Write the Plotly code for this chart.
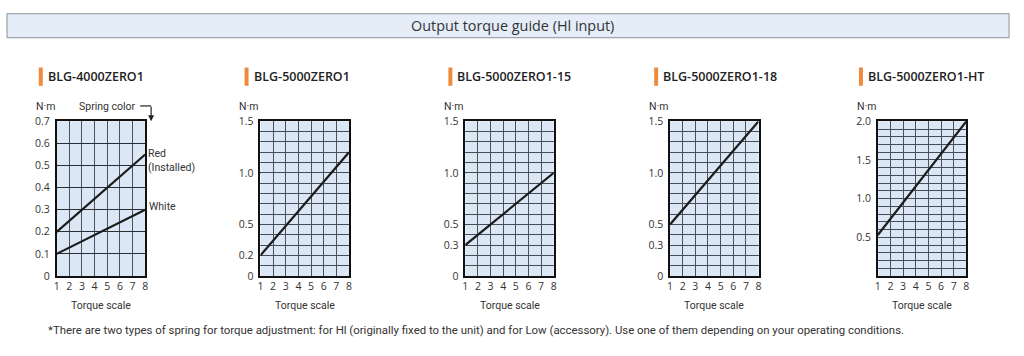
import plotly.graph_objects as go

W, H = 1024, 356

# ---- data ----
torque_scale = [1, 8]
models = ["BLG-4000ZERO1", "BLG-5000ZERO1", "BLG-5000ZERO1-15", "BLG-5000ZERO1-18", "BLG-5000ZERO1-HT"]
red_installed = [0.2, 0.55]
white_spring = [0.1, 0.3]
blg5000 = [0.2, 1.2]
blg5000_15 = [0.3, 1.0]
blg5000_18 = [0.5, 1.5]
blg5000_ht = [0.53, 2.0]
y_max = [0.7, 1.5, 1.5, 1.5, 2.0]
y_ticks = [
    [0, 0.1, 0.2, 0.3, 0.4, 0.5, 0.6, 0.7],
    [0, 0.2, 0.5, 1.0, 1.5],
    [0, 0.3, 0.5, 1.0, 1.5],
    [0, 0.3, 0.5, 1.0, 1.5],
    [0.5, 1.0, 1.5, 2.0],
]
y_tick_text = [
    ["0", "0.1", "0.2", "0.3", "0.4", "0.5", "0.6", "0.7"],
    ["0", "0.2", "0.5", "1.0", "1.5"],
    ["0", "0.3", "0.5", "1.0", "1.5"],
    ["0", "0.3", "0.5", "1.0", "1.5"],
    ["0.5", "1.0", "1.5", "2.0"],
]
major_lines = [[], [0.5, 1.0], [0.5, 1.0], [0.5, 1.0], [0.5, 1.0, 1.5]]
x_ticks = [1, 2, 3, 4, 5, 6, 7, 8]

# ---- layout geometry (pixels) ----
plot_left = [54, 259, 465, 671, 880]
plot_w = 89
plot_top, plot_bottom = 119, 280
title_bar_x = [36, 243, 448, 655, 861]

def px(x):
    return x / W

def py(y):
    return 1 - y / H

FONT = "Open Sans"
SMALL = "Roboto"
BG = "#dce7f5"
LINE = "#1b1b1b"

fig = go.Figure()
series = [[(red_installed, "Red (Installed)"), (white_spring, "White")],
          [(blg5000, models[1])], [(blg5000_15, models[2])],
          [(blg5000_18, models[3])], [(blg5000_ht, models[4])]]

shapes = []
annotations = []
layout = {}
for i in range(5):
    n = "" if i == 0 else str(i + 1)
    for vals, name in series[i]:
        fig.add_trace(go.Scatter(x=torque_scale, y=vals, mode="lines", name=name,
                                 line=dict(color=LINE, width=2.2), showlegend=False,
                                 xaxis="x" + n, yaxis="y" + n))
    layout["xaxis" + n] = dict(
        domain=[px(plot_left[i]), px(plot_left[i] + plot_w)], anchor="y" + n,
        range=[1, 8], tickvals=x_ticks, showgrid=True, gridcolor="#4a525c", gridwidth=1,
        showline=True, linecolor="#111", linewidth=1.5, mirror=True, zeroline=False,
        ticks="", tickfont=dict(family=FONT, size=10.5, color="#333"), fixedrange=True,
    )
    layout["yaxis" + n] = dict(
        domain=[py(plot_bottom), py(plot_top)], anchor="x" + n,
        range=[0, y_max[i]], tickvals=y_ticks[i], ticktext=y_tick_text[i],
        showgrid=(i == 0), gridcolor="#2a2f36", gridwidth=1,
        minor=dict(dtick=0.1, tick0=0, showgrid=(i != 0), gridcolor="#454e58", gridwidth=1),
        showline=True, linecolor="#111", linewidth=1.5, mirror=True, zeroline=False,
        ticks="outside", ticklen=3, tickcolor="rgba(0,0,0,0)",
        tickfont=dict(family=FONT, size=10.5, color="#333"), fixedrange=True,
    )
    for v in major_lines[i]:
        shapes.append(dict(type="line", xref="x" + n + " domain", yref="y" + n,
                           x0=0, x1=1, y0=v, y1=v, line=dict(color="#111", width=2), layer="below"))
    # panel title
    shapes.append(dict(type="rect", xref="paper", yref="paper",
                       x0=px(title_bar_x[i]), x1=px(title_bar_x[i] + 4),
                       y0=py(82), y1=py(63), fillcolor="#ef8a3c", line=dict(width=0)))
    annotations.append(dict(text=models[i], xref="paper", yref="paper",
                            x=px(title_bar_x[i] + 7), y=py(72), xanchor="left", yanchor="middle",
                            showarrow=False, font=dict(family=FONT, size=12.5, color="#222", weight=600)))
    annotations.append(dict(text="N·m", xref="x" + n + " domain", yref="y" + n + " domain",
                            x=0, y=1, xanchor="right", yanchor="bottom", xshift=0, yshift=6,
                            showarrow=False, font=dict(family=SMALL, size=10.5, color="#333")))
    annotations.append(dict(text="Torque scale", xref="x" + n + " domain", yref="y" + n + " domain",
                            x=0.5, y=0, xanchor="center", yanchor="top", yshift=-21,
                            showarrow=False, font=dict(family=SMALL, size=10.5, color="#333")))

# plot backgrounds
for i in range(5):
    shapes.append(dict(type="rect", xref="paper", yref="paper", layer="below",
                       x0=px(plot_left[i]), x1=px(plot_left[i] + plot_w),
                       y0=py(plot_bottom), y1=py(plot_top), fillcolor=BG, line=dict(width=0)))

# header bar
shapes.append(dict(type="rect", xref="paper", yref="paper", x0=px(4), x1=px(1012),
                   y0=py(32), y1=py(7), fillcolor="#e4edf8", line=dict(color="#8a8f96", width=1)))
annotations.append(dict(text="Output torque guide (Hl input)", xref="paper", yref="paper",
                        x=px(512), y=py(19.5), xanchor="center", yanchor="middle", showarrow=False,
                        font=dict(family=FONT, size=14.4, color="#333")))

# spring color annotations (panel 1)
annotations.append(dict(text="Spring color", xref="paper", yref="paper", x=px(136), y=py(104),
                        xanchor="right", yanchor="middle", showarrow=False,
                        font=dict(family=SMALL, size=10.5, color="#333")))
shapes.append(dict(type="line", xref="paper", yref="paper", x0=px(138), x1=px(149),
                   y0=py(103), y1=py(103), line=dict(color="#222", width=1.2)))
annotations.append(dict(text="", xref="paper", yref="paper", x=px(149), y=py(119),
                        ax=0, ay=-16, axref="pixel", ayref="pixel",
                        showarrow=True, arrowhead=2, arrowsize=1, arrowwidth=1.2, arrowcolor="#222"))
annotations.append(dict(text="Red<br>(Installed)", xref="x", yref="y", x=8, y=red_installed[-1],
                        xanchor="left", yanchor="top", xshift=1, yshift=9, align="left", showarrow=False,
                        font=dict(family=SMALL, size=10.5, color="#333")))
annotations.append(dict(text="White", xref="x", yref="y", x=8, y=white_spring[-1],
                        xanchor="left", yanchor="middle", xshift=2, yshift=3, showarrow=False,
                        font=dict(family=SMALL, size=10.5, color="#333")))

# footnote
annotations.append(dict(text="*There are two types of spring for torque adjustment: for Hl (originally fixed to the unit) and for Low (accessory). Use one of them depending on your operating conditions.",
                        xref="paper", yref="paper", x=px(43), y=py(336), xanchor="left", yanchor="middle",
                        showarrow=False, font=dict(family=SMALL, size=11.4, color="#333")))

fig.update_layout(width=W, height=H, margin=dict(l=0, r=0, t=0, b=0),
                  paper_bgcolor="white", plot_bgcolor="rgba(0,0,0,0)",
                  shapes=shapes, annotations=annotations, **layout)
fig.write_html("out.html", config={"displayModeBar": False})
